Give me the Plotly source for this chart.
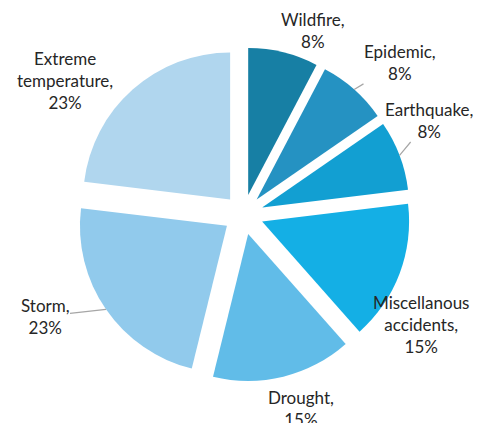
import numpy as np
import plotly.graph_objects as go

categories = ["Wildfire", "Epidemic", "Earthquake", "Miscellanous accidents",
              "Drought", "Storm", "Extreme temperature"]
values = [1, 1, 1, 2, 2, 3, 3]
colors = ["#177FA4", "#2592C2", "#129FD2", "#14AFE5", "#61BCE8", "#91CAEC", "#B0D6EE"]
label_text = ["Wildfire,<br>8%", "Epidemic,<br>8%", "Earthquake,<br>8%",
              "Miscellanous<br>accidents,<br>15%", "Drought,<br>15%",
              "Storm,<br>23%", "Extreme<br>temperature,<br>23%"]

# ---- layout / style constants ----
W, H = 478, 423
PULL = 0.136
CX, CY = 243.4, 214.5          # pie centre, px
OUTER = 167.0                  # radius incl. pull, px
# label block centres (px) and whether a leader line is drawn
label_center = [(313, 31), (400, 62), (429, 120), (421, 324), (301, 408), (45, 316), (65, 81)]
leader = [True, True, True, False, False, True, False]

fig = go.Figure(go.Pie(
    labels=categories,
    values=values,
    textinfo="none",
    sort=False,
    direction="clockwise",
    rotation=0,
    pull=[PULL] * len(values),
    marker=dict(colors=colors, line=dict(width=0)),
    domain=dict(x=[(CX - OUTER) / W, (CX + OUTER) / W],
                y=[1 - (CY + OUTER) / H, 1 - (CY - OUTER) / H]),
    showlegend=False,
    hoverinfo="label+percent",
))

# slice mid-angles from the data
vals = np.array(values, dtype=float)
cum = np.cumsum(vals) / vals.sum() * 2 * np.pi
mid = cum - vals / vals.sum() * np.pi

for i, txt in enumerate(label_text):
    px = CX + OUTER * np.sin(mid[i])
    py = CY - OUTER * np.cos(mid[i])
    lx, ly = label_center[i]
    fig.add_annotation(
        x=px / W, y=1 - py / H, xref="paper", yref="paper",
        text=txt, showarrow=True, arrowhead=0, arrowwidth=1.2,
        arrowcolor="#A6A6A6" if leader[i] else "rgba(0,0,0,0)",
        ax=lx - px, ay=ly - py, standoff=0,
        font=dict(family="Lato", size=17, color="#262626"),
        align="center", borderpad=0,
    )

fig.update_layout(
    width=W, height=H,
    margin=dict(l=0, r=0, t=0, b=0),
    paper_bgcolor="white",
    plot_bgcolor="white",
)

fig.write_html("out.html")
